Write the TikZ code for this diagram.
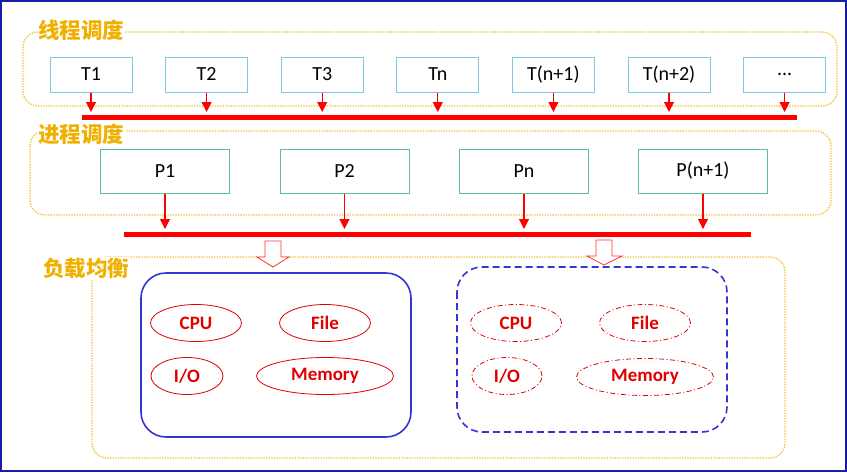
\documentclass[tikz,border=0pt]{standalone}
\usepackage{fontspec}
\setmainfont{Carlito}
\newfontfamily\cjk{Noto Sans CJK SC}
\usetikzlibrary{arrows.meta,shapes.geometric}
\definecolor{gold}{HTML}{F2C233}
\definecolor{goldtxt}{HTML}{F0B000}
\definecolor{tblue}{HTML}{7EC8E3}
\definecolor{pgreen}{HTML}{5CBF9A}
\definecolor{frameblue}{HTML}{1A1AA8}
\definecolor{boxblue}{HTML}{3535D0}
\definecolor{ered}{HTML}{E00000}
\newcommand\threedots{...}
\tikzset{
  grp/.style={draw=gold, line width=1.4pt, dash pattern=on 1.3pt off 1.3pt, rounded corners=15pt},
  grplabel/.style={font=\cjk\bfseries\fontsize{21.5}{23}\selectfont, text=goldtxt, fill=white, inner sep=0.5pt},
  tbox/.style={draw=tblue, line width=1pt, minimum width=82pt, minimum height=35pt, inner sep=0pt, font=\fontsize{20}{22}\selectfont},
  pbox/.style={draw=pgreen, line width=1pt, minimum width=129pt, minimum height=44pt, inner sep=0pt, font=\fontsize{20}{22}\selectfont},
  redarr/.style={draw=red, line width=1.1pt, -{Triangle[width=10pt,length=10pt]}},
  redbar/.style={draw=red, line width=5pt},
  hollow/.style={draw=red!80, fill=white, line width=0.8pt},
  res/.style={ellipse, draw=ered, line width=0.8pt, minimum height=37pt, inner sep=0pt, text=ered, font=\bfseries\fontsize{19}{21}\selectfont},
  resdash/.style={res, dash pattern=on 5pt off 2.5pt on 1pt off 2.5pt},
}
\begin{document}
\begin{tikzpicture}[x=1pt,y=-1pt]
\useasboundingbox (0,0) rectangle (847,472);
\fill[white] (0,0) rectangle (847,472);
\draw[frameblue, line width=2pt] (1,1) rectangle (846,471);

% groups
\draw[grp] (23,32) rectangle (837,106);
\draw[grp] (30,131) rectangle (831,215);
\draw[grp] (92,257) rectangle (785,458);
\node[grplabel] (lt) at (81,30) {线程调度};
\node[grplabel] (lp) at (81,134) {进程调度};
\node[grplabel] (ll) at (86,268) {负载均衡};

% threads
\foreach \n/\t [count=\i from 0] in {t1/T1,t2/T2,t3/T3,tn/Tn,tn1/T(n+1),tn2/T(n+2),td/\threedots}{
  \node[tbox] (\n) at (91+115.6*\i,74.5) {\t};
}
\coordinate (bar1L) at (82,117);
\coordinate (bar1R) at (797,117);
\draw[redbar] (bar1L) -- (bar1R);
\coordinate (tip1) at (0,112);
\foreach \n in {t1,t2,t3,tn,tn1,tn2,td}{
  \draw[redarr] (\n.south) -- (\n.south |- tip1);
}

% processes
\node[pbox] (p1) at (165,171) {P1};
\node[pbox] (p2) at (344.5,171) {P2};
\node[pbox] (pn) at (524,171) {Pn};
\node[pbox] (pn1) at (703,171) {P(n+1)};
\coordinate (bar2L) at (124,234);
\coordinate (bar2R) at (751,234);
\draw[redbar] (bar2L) -- (bar2R);
\coordinate (tip2) at (0,229);
\foreach \n in {p1,p2,pn,pn1}{
  \draw[redarr] (\n.south) -- (\n.south |- tip2);
}

% hollow arrows
\draw[hollow] (265,241) -- (281,241) -- (281,257) -- (289,257) -- (273,267) -- (257,257) -- (265,257) -- cycle;
\draw[hollow] (596,240) -- (612,240) -- (612,256) -- (622,256) -- (604,265) -- (587,256) -- (596,256) -- cycle;

% load balance boxes
\draw[boxblue, line width=1.6pt, rounded corners=25pt] (141,273) rectangle (411,437);
\draw[boxblue, line width=1.6pt, dash pattern=on 7pt off 4pt, rounded corners=25pt] (457,267) rectangle (727,432);

\node[res, minimum width=91pt] (cpu1) at (196,323) {CPU};
\node[res, minimum width=91pt] (file1) at (325,323) {File};
\node[res, minimum width=72pt] (io1) at (187,376) {I/O};
\node[res, minimum width=137pt] (mem1) at (325,376) {Memory};

\node[resdash, minimum width=91pt] (cpu2) at (516,323) {CPU};
\node[resdash, minimum width=91pt] (file2) at (645,323) {File};
\node[resdash, minimum width=70pt] (io2) at (507,376) {I/O};
\node[resdash, minimum width=137pt] (mem2) at (645,377) {Memory};
\end{tikzpicture}
\end{document}
